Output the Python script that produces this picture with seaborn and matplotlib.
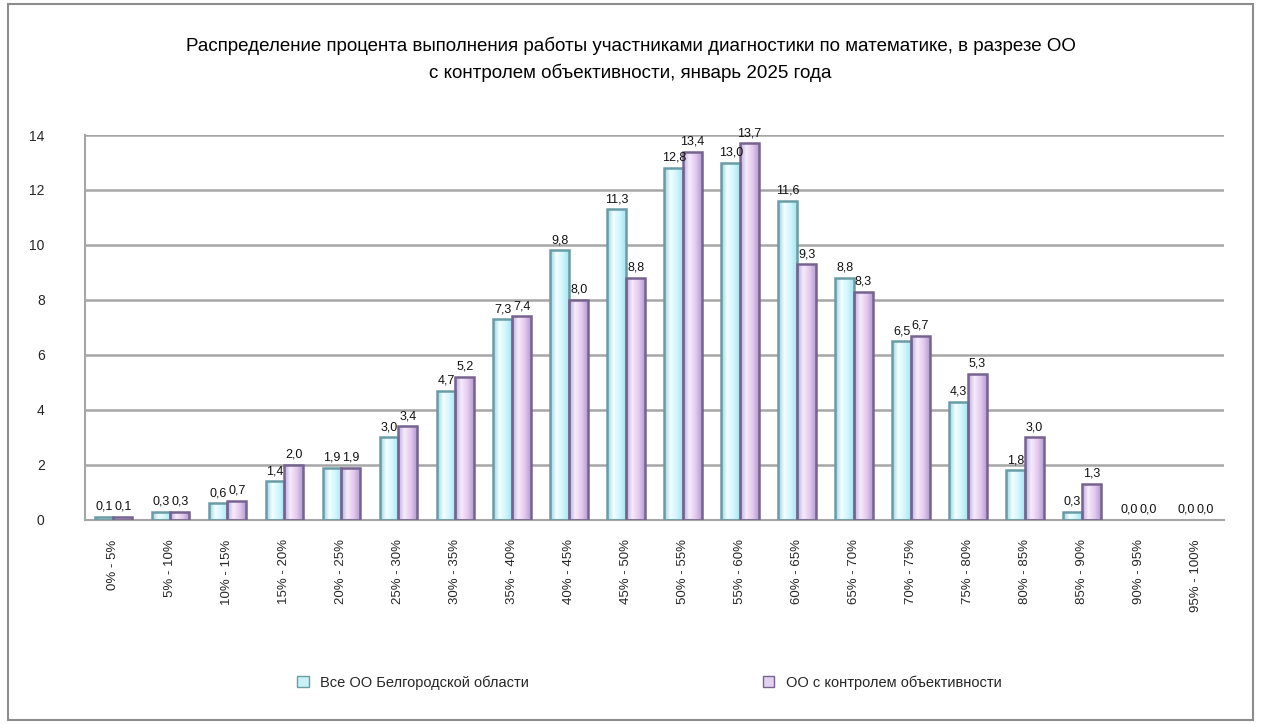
import numpy as np
import pandas as pd
import matplotlib
matplotlib.use("Agg")
import matplotlib.pyplot as plt
from matplotlib.patches import Patch, Rectangle
from matplotlib.colors import LinearSegmentedColormap
import seaborn as sns

# ---- data ----
categories = ["0% - 5%", "5% - 10%", "10% - 15%", "15% - 20%", "20% - 25%",
              "25% - 30%", "30% - 35%", "35% - 40%", "40% - 45%", "45% - 50%",
              "50% - 55%", "55% - 60%", "60% - 65%", "65% - 70%", "70% - 75%",
              "75% - 80%", "80% - 85%", "85% - 90%", "90% - 95%", "95% - 100%"]
series_names = ["Все ОО Белгородской области", "ОО с контролем объективности"]
values_all = [0.1, 0.3, 0.6, 1.4, 1.9, 3.0, 4.7, 7.3, 9.8, 11.3,
              12.8, 13.0, 11.6, 8.8, 6.5, 4.3, 1.8, 0.3, 0.0, 0.0]
values_ctrl = [0.1, 0.3, 0.7, 2.0, 1.9, 3.4, 5.2, 7.4, 8.0, 8.8,
               13.4, 13.7, 9.3, 8.3, 6.7, 5.3, 3.0, 1.3, 0.0, 0.0]
y_ticks = [0, 2, 4, 6, 8, 10, 12, 14]
title_lines = ["Распределение процента выполнения работы участниками диагностики по математике, в разрезе ОО",
               "с контролем объективности, январь 2025 года"]

df = pd.DataFrame({
    "cat": categories * 2,
    "val": values_all + values_ctrl,
    "series": [series_names[0]] * len(categories) + [series_names[1]] * len(categories),
})

sns.set_style("white")
plt.rcParams["font.family"] = ["Liberation Sans Narrow", "Liberation Sans", "DejaVu Sans"]

fig = plt.figure(figsize=(12.61, 7.24), dpi=100)
ax = fig.add_axes([0.0674, 0.282, 0.9036, 0.5315])

face = ["#c9f1f8", "#e1d2f2"]
edges = ["#6a9ca6", "#76638f"]
sns.barplot(data=df, x="cat", y="val", hue="series", hue_order=series_names,
            palette=face, width=0.66, gap=0.0, ax=ax, legend=False,
            edgecolor="none", linewidth=0, saturation=1)

cmaps = [LinearSegmentedColormap.from_list("c1", ["#95d3e0", "#f4feff", "#d0f6fd", "#a8e6f2"]),
         LinearSegmentedColormap.from_list("c2", ["#bba8de", "#f6ecfa", "#e6c9ef", "#b29fd3"])]
grad = np.linspace(0, 1, 64).reshape(1, -1)

for ci, cont in enumerate(ax.containers):
    for p in cont.patches:
        x0, y0 = p.get_x(), p.get_y()
        w, h = p.get_width(), p.get_height()
        if h <= 0:
            continue
        im = ax.imshow(grad, cmap=cmaps[ci], aspect="auto",
                       extent=(x0, x0 + w, y0, y0 + h), zorder=2.5,
                       interpolation="bilinear")
        im.set_clip_path(p)
        ax.add_patch(Rectangle((x0, y0), w, h, fill=False,
                               edgecolor=edges[ci], linewidth=1.8, zorder=2.6))
    labels = [f"{v:.1f}".replace(".", ",") for v in cont.datavalues]
    ax.bar_label(cont, labels=labels, padding=3, fontsize=9, color="#111111", zorder=3)

ax.set_xlim(-0.5, len(categories) - 0.5)
ax.set_ylim(0, 14)
ax.set_yticks(y_ticks)
ax.set_yticklabels([str(t) for t in y_ticks], fontsize=10)
ax.yaxis.grid(True, color="#a6a6a6", linewidth=1.8)
ax.set_axisbelow(True)
ax.set_xlabel("")
ax.set_ylabel("")
ax.set_xticks(range(len(categories)))
ax.set_xticklabels(categories, rotation=90, fontsize=9.5)
ax.tick_params(axis="x", length=0, pad=14)
ax.tick_params(axis="y", length=5, color="#a6a6a6", pad=24)
for s in ["top", "right"]:
    ax.spines[s].set_visible(False)
ax.spines["left"].set_color("#a6a6a6")
ax.spines["left"].set_linewidth(1.5)
ax.spines["bottom"].set_color("#a6a6a6")
ax.spines["bottom"].set_linewidth(1.5)

fig.text(0.5, 0.937, title_lines[0], ha="center", va="center", fontsize=13.5, color="black")
fig.text(0.5, 0.900, title_lines[1], ha="center", va="center", fontsize=13.5, color="black")

handles = [Patch(facecolor=face[0], edgecolor=edges[0]),
           Patch(facecolor=face[1], edgecolor=edges[1])]
fig.legend(handles, series_names, loc="center", bbox_to_anchor=(0.515, 0.057),
           ncol=2, frameon=False, fontsize=10.5, columnspacing=16,
           handlelength=0.8, handleheight=0.8)

fig.patches.append(Rectangle((0.006, 0.006), 0.988, 0.988, transform=fig.transFigure,
                             fill=False, edgecolor="#8c8c8c", linewidth=1.5))

fig.savefig("out.png", dpi=100, facecolor="white")
